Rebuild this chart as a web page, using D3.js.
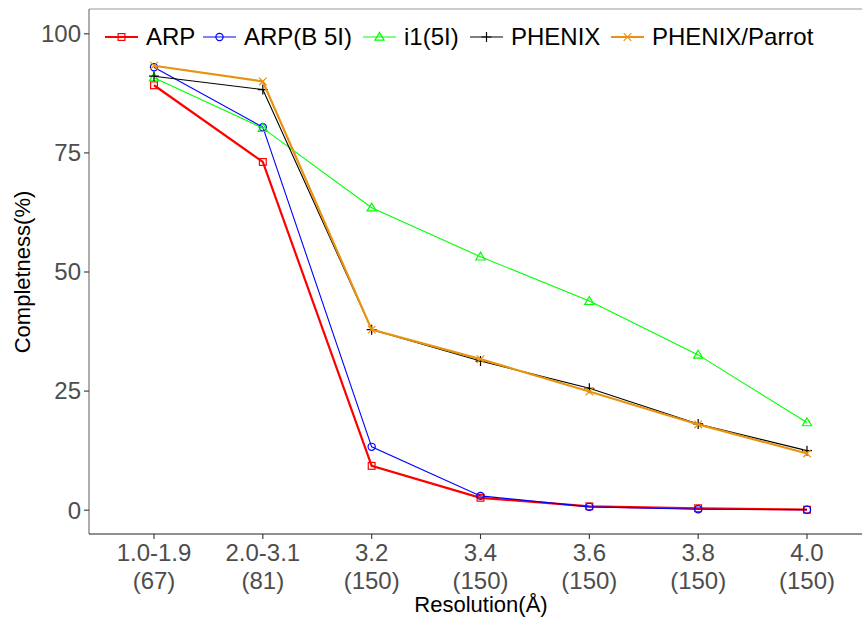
<!DOCTYPE html>
<html>
<head>
<meta charset="utf-8">
<script src="https://cdn.jsdelivr.net/npm/d3@7"></script>
<style>
  body { margin: 0; background: #fff; }
  text { font-family: "Liberation Sans", Arial, sans-serif; }
</style>
</head>
<body>
<div id="chart"></div>
<script>
// categories along x (resolution, number of structures)
var resolutions = ["1.0-1.9", "2.0-3.1", "3.2", "3.4", "3.6", "3.8", "4.0"];
var counts = ["(67)", "(81)", "(150)", "(150)", "(150)", "(150)", "(150)"];
var yTicks = [0, 25, 50, 75, 100];

// completeness (%) per method
var arp       = [89.2, 73.1, 9.3, 2.6, 0.8, 0.4, 0.1];
var arpB5I    = [93.0, 80.4, 13.3, 3.0, 0.7, 0.2, 0.1];
var i15I      = [90.8, 80.2, 63.5, 53.2, 43.9, 32.6, 18.4];
var phenix    = [91.1, 88.3, 37.9, 31.3, 25.6, 18.1, 12.5];
var parrot    = [93.3, 90.0, 37.9, 31.7, 24.9, 18.0, 11.9];

var seriesNames = ["ARP", "ARP(B 5I)", "i1(5I)", "PHENIX", "PHENIX/Parrot"];
var seriesData = [arp, arpB5I, i15I, phenix, parrot];
var colors = ["#ff0000", "#0000ff", "#00ff00", "#000000", "#e8930f"];
var widths = [2.2, 1.1, 1.1, 1.1, 2.2];
var shapes = ["square", "circle", "triangle", "plus", "cross"];

var W = 862, H = 617;
var svg = d3.select("#chart").append("svg").attr("width", W).attr("height", H);

var pLeft = 89, pRight = 872, pTop = 9, pBottom = 534;

var x = d3.scalePoint().domain(resolutions).range([154, 807]);
var y = d3.scaleLinear().domain([-5, 105]).range([pBottom, pTop + 1]);

// panel frame
svg.append("line").attr("x1", pLeft).attr("x2", pRight).attr("y1", pTop).attr("y2", pTop)
  .style("stroke", "#999").style("stroke-width", 1.2);

// y axis
svg.append("line").attr("x1", pLeft).attr("x2", pLeft).attr("y1", pTop).attr("y2", pBottom)
  .style("stroke", "#777").style("stroke-width", 1.2);
yTicks.forEach(function (t) {
  svg.append("line").attr("x1", pLeft - 5).attr("x2", pLeft).attr("y1", y(t)).attr("y2", y(t))
    .style("stroke", "#333").style("stroke-width", 1.1);
  svg.append("text").attr("x", pLeft - 8).attr("y", y(t)).attr("dy", "0.35em")
    .attr("text-anchor", "end").style("font-size", "24px").style("fill", "#4d4d4d")
    .text(t);
});

// x axis
svg.append("line").attr("x1", pLeft).attr("x2", pRight).attr("y1", pBottom).attr("y2", pBottom)
  .style("stroke", "#222").style("stroke-width", 1.2);
resolutions.forEach(function (r, i) {
  var px = x(r);
  svg.append("line").attr("x1", px).attr("x2", px).attr("y1", pBottom).attr("y2", pBottom + 5)
    .style("stroke", "#333").style("stroke-width", 1.1);
  svg.append("text").attr("x", px).attr("y", 561).attr("text-anchor", "middle")
    .style("font-size", "24px").style("fill", "#4d4d4d").text(r);
  svg.append("text").attr("x", px).attr("y", 589).attr("text-anchor", "middle")
    .style("font-size", "24px").style("fill", "#4d4d4d").text(counts[i]);
});

// axis titles
svg.append("text").attr("x", 481).attr("y", 612).attr("text-anchor", "middle")
  .style("font-size", "22px").style("fill", "#000").text("Resolution(Å)");
svg.append("text").attr("transform", "translate(30," + y(50) + ") rotate(-90)")
  .attr("text-anchor", "middle").style("font-size", "22px").style("fill", "#000")
  .text("Completness(%)");

function drawShape(g, kind, cx, cy, color) {
  var s = 3.4;
  if (kind === "square") {
    g.append("rect").attr("x", cx - s).attr("y", cy - s).attr("width", 2 * s).attr("height", 2 * s)
      .style("fill", "none").style("stroke", color).style("stroke-width", 1.2);
  } else if (kind === "circle") {
    g.append("circle").attr("cx", cx).attr("cy", cy).attr("r", 3.6)
      .style("fill", "none").style("stroke", color).style("stroke-width", 1.2);
  } else if (kind === "triangle") {
    var t = 4.6;
    g.append("path").attr("d", "M" + cx + "," + (cy - t) + "L" + (cx + t) + "," + (cy + t * 0.7) +
      "L" + (cx - t) + "," + (cy + t * 0.7) + "Z")
      .style("fill", "none").style("stroke", color).style("stroke-width", 1.2);
  } else if (kind === "plus") {
    var p = 5;
    g.append("path").attr("d", "M" + (cx - p) + "," + cy + "H" + (cx + p) + "M" + cx + "," + (cy - p) + "V" + (cy + p))
      .style("stroke", color).style("stroke-width", 1.2);
  } else {
    var c = 3.8;
    g.append("path").attr("d", "M" + (cx - c) + "," + (cy - c) + "L" + (cx + c) + "," + (cy + c) +
      "M" + (cx - c) + "," + (cy + c) + "L" + (cx + c) + "," + (cy - c))
      .style("stroke", color).style("stroke-width", 1.2);
  }
}

var line = d3.line().x(function (d, i) { return x(resolutions[i]); }).y(function (d) { return y(d); });

seriesData.forEach(function (vals, k) {
  var g = svg.append("g");
  g.append("path").datum(vals).attr("d", line)
    .style("fill", "none").style("stroke", colors[k]).style("stroke-width", widths[k]);
  vals.forEach(function (v, i) {
    drawShape(g, shapes[k], x(resolutions[i]), y(v), colors[k]);
  });
});

// legend
var legendKeys = [105, 203, 363, 470, 611];
var legY = 37;
seriesNames.forEach(function (name, k) {
  var kx = legendKeys[k];
  svg.append("line").attr("x1", kx).attr("x2", kx + 33).attr("y1", legY).attr("y2", legY)
    .style("stroke", colors[k]).style("stroke-width", widths[k]);
  drawShape(svg, shapes[k], kx + 16.5, legY, colors[k]);
  svg.append("text").attr("x", kx + 41).attr("y", legY).attr("dy", "0.35em")
    .style("font-size", "24px").style("fill", "#000").text(name);
});
</script>
</body>
</html>
